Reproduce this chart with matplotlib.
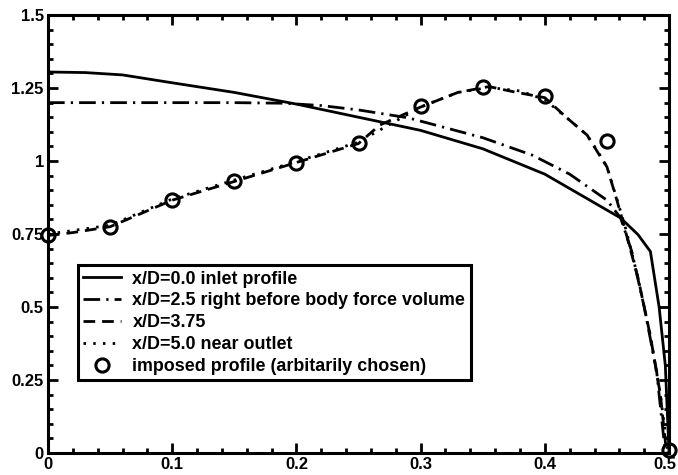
import matplotlib
matplotlib.use("Agg")
import matplotlib.pyplot as plt
import matplotlib.transforms as mtransforms
from matplotlib.ticker import MultipleLocator, FixedLocator, FixedFormatter

plt.rcParams['font.family'] = ['Liberation Sans', 'DejaVu Sans']
plt.rcParams['font.weight'] = 'bold'

# x/D=0.0 inlet profile
x_inlet = [0, 0.03, 0.06, 0.1, 0.15, 0.2, 0.25, 0.3, 0.35, 0.4, 0.437, 0.45, 0.461, 0.475, 0.485, 0.492, 0.497, 0.5]
y_inlet = [1.305, 1.303, 1.295, 1.268, 1.235, 1.195, 1.15, 1.105, 1.042, 0.955, 0.864, 0.832, 0.805, 0.748, 0.69, 0.5, 0.3, 0.0]

# x/D=2.5 right before body force volume
x_bf = [0, 0.05, 0.1, 0.15, 0.19, 0.22, 0.25, 0.29, 0.35, 0.39, 0.42, 0.45, 0.461, 0.47, 0.48, 0.49, 0.497]
y_bf = [1.2, 1.2, 1.2, 1.2, 1.198, 1.19, 1.175, 1.148, 1.08, 1.02, 0.955, 0.866, 0.805, 0.69, 0.5, 0.28, 0.0]

# x/D=3.75
x_375 = [0, 0.02, 0.05, 0.1, 0.15, 0.2, 0.25, 0.267, 0.3, 0.33, 0.355, 0.374, 0.4, 0.418, 0.434, 0.443, 0.45, 0.458, 0.463, 0.475, 0.485, 0.493, 0.498]
y_375 = [0.745, 0.755, 0.775, 0.866, 0.93, 0.995, 1.06, 1.123, 1.185, 1.235, 1.255, 1.238, 1.217, 1.147, 1.089, 1.027, 0.98, 0.866, 0.79, 0.6, 0.4, 0.2, 0.0]

# x/D=5.0 near outlet
x_50 = [0, 0.05, 0.1, 0.15, 0.2, 0.25, 0.3, 0.33, 0.355, 0.38, 0.4, 0.418, 0.434, 0.443, 0.45, 0.458, 0.465, 0.475, 0.485, 0.493, 0.499]
y_50 = [0.75, 0.78, 0.87, 0.935, 0.998, 1.065, 1.185, 1.235, 1.252, 1.24, 1.21, 1.147, 1.089, 1.03, 0.98, 0.87, 0.77, 0.6, 0.4, 0.2, 0.0]

# imposed profile (arbitarily chosen)
x_imp = [0, 0.05, 0.1, 0.15, 0.2, 0.25, 0.3, 0.35, 0.4, 0.45, 0.5]
y_imp = [0.745, 0.775, 0.868, 0.93, 0.995, 1.062, 1.187, 1.253, 1.223, 1.068, 0.01]

labels = ['x/D=0.0 inlet profile',
          'x/D=2.5 right before body force volume',
          'x/D=3.75',
          'x/D=5.0 near outlet',
          'imposed profile (arbitarily chosen)']

xticks = [0, 0.1, 0.2, 0.3, 0.4, 0.5]
xtick_labels = ['0', '0.1', '0.2', '0.3', '0.4', '0.5']
yticks = [0, 0.25, 0.5, 0.75, 1.0, 1.25, 1.5]
ytick_labels = ['0', '0.25', '0.5', '0.75', '1', '1.25', '1.5']

fig = plt.figure(figsize=(6.78, 4.75), dpi=100)
ax = fig.add_axes([0.0708, 0.0463, 0.916, 0.922])

lw = 2.0
ax.plot(x_inlet, y_inlet, color='black', lw=lw, linestyle='-', label=labels[0])
ax.plot(x_bf, y_bf, color='black', lw=lw, linestyle=(0, (6.0, 2.2, 0.8, 2.2)), label=labels[1])
ax.plot(x_375, y_375, color='black', lw=lw, linestyle=(0, (4.2, 2.5)), label=labels[2])
ax.plot(x_50, y_50, color='black', lw=lw, linestyle=(0, (0.9, 2.6)), label=labels[3])
ax.plot(x_imp, y_imp, linestyle='none', marker='o', markersize=9.5, markerfacecolor='none',
        markeredgecolor='black', markeredgewidth=2.2, label=labels[4], clip_on=False)

ax.set_xlim(0, 0.5)
ax.set_ylim(0, 1.5)

ax.xaxis.set_major_locator(FixedLocator(xticks))
ax.xaxis.set_major_formatter(FixedFormatter(xtick_labels))
ax.yaxis.set_major_locator(FixedLocator(yticks))
ax.yaxis.set_major_formatter(FixedFormatter(ytick_labels))
ax.xaxis.set_minor_locator(MultipleLocator(0.02))
ax.yaxis.set_minor_locator(MultipleLocator(0.05))

ax.tick_params(which='both', direction='in', top=True, right=True, width=2.0, color='black')
ax.tick_params(which='major', length=7, labelsize=12, pad=3)
ax.tick_params(which='minor', length=3.5)
for lab in ax.get_xticklabels() + ax.get_yticklabels():
    lab.set_fontweight('bold')

# keep the last x label inside the figure
last = ax.get_xticklabels()[-1]
last.set_transform(last.get_transform() + mtransforms.ScaledTranslation(-4 / 100, 0, fig.dpi_scale_trans))

for sp in ax.spines.values():
    sp.set_linewidth(2.2)
    sp.set_color('black')

leg = ax.legend(loc='upper left', bbox_to_anchor=(0.048, 0.429), frameon=True, fancybox=False,
                edgecolor='black', framealpha=1, borderpad=0.3, labelspacing=0.27,
                handlelength=2.1, handletextpad=0.65, borderaxespad=0,
                prop={'weight': 'bold', 'size': 12.9})
leg.get_frame().set_linewidth(2.2)

fig.savefig('out.png', dpi=100)
